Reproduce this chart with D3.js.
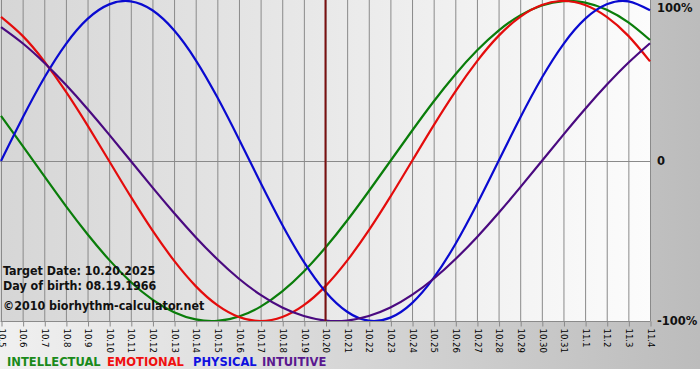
<!DOCTYPE html>
<html><head><meta charset="utf-8">
<script src="https://cdn.jsdelivr.net/npm/d3@7"></script>
<style>html,body{margin:0;padding:0;background:#fff;}svg{display:block;}</style>
</head><body>
<script>
const dates = ["10.5","10.6","10.7","10.8","10.9","10.10","10.11","10.12","10.13","10.14","10.15","10.16","10.17","10.18","10.19","10.20","10.21","10.22","10.23","10.24","10.25","10.26","10.27","10.28","10.29","10.30","10.31","11.1","11.2","11.3","11.4"];
const intellectual = [0.282,0.095,-0.095,-0.282,-0.458,-0.618,-0.756,-0.866,-0.945,-0.990,-0.999,-0.972,-0.910,-0.815,-0.690,-0.541,-0.372,-0.189,0,0.189,0.372,0.541,0.690,0.815,0.910,0.972,0.999,0.990,0.945,0.866,0.756];
const emotional = [0.901,0.782,0.623,0.434,0.223,0,-0.223,-0.434,-0.623,-0.782,-0.901,-0.975,-1,-0.975,-0.901,-0.782,-0.623,-0.434,-0.223,0,0.223,0.434,0.623,0.782,0.901,0.975,1,0.975,0.901,0.782,0.623];
const physical = [0,0.270,0.520,0.731,0.888,0.979,0.998,0.942,0.817,0.631,0.398,0.136,-0.136,-0.398,-0.631,-0.817,-0.942,-0.998,-0.979,-0.888,-0.731,-0.520,-0.270,0,0.270,0.520,0.731,0.888,0.979,0.998,0.942];
const intuitive = [0.837,0.736,0.614,0.476,0.325,0.165,0,-0.165,-0.325,-0.476,-0.614,-0.736,-0.837,-0.916,-0.969,-0.997,-0.997,-0.969,-0.916,-0.837,-0.736,-0.614,-0.476,-0.325,-0.165,0,0.165,0.325,0.476,0.614,0.736];
const seriesNames = ["INTELLECTUAL","EMOTIONAL","PHYSICAL","INTUITIVE"];
const yTickLabels = ["100%","0","-100%"];
const yTickValues = [1,0,-1];
const targetDate = "10.20";
const infoLines = ["Target Date: 10.20.2025","Day of birth: 08.19.1966","\u00a92010 biorhythm-calculator.net"];

const W=700,H=380;
const lineColors=["#0a7d0a","#e40c0c","#0a0ad0","#4a0a80"];
const legendColors=["#1a8a1a","#f01010","#1010e0","#5a1890"];
const seriesData=[intellectual,emotional,physical,intuitive];

const svg=d3.select("body").append("svg").attr("width",W).attr("height",H);
const defs=svg.append("defs");
const g1=defs.append("linearGradient").attr("id","outerG").attr("x1","0").attr("x2","1").attr("y1","0").attr("y2","0");
g1.append("stop").attr("offset","0").attr("stop-color","#f0f0f0");
g1.append("stop").attr("offset","1").attr("stop-color","#bcbcbc");
const g2=defs.append("linearGradient").attr("id","plotG").attr("x1","0").attr("x2","1").attr("y1","0").attr("y2","0");
g2.append("stop").attr("offset","0").attr("stop-color","#d6d6d6");
g2.append("stop").attr("offset","1").attr("stop-color","#fcfcfc");

const x=d3.scalePoint().domain(dates).range([1,650]);
const y=d3.scaleLinear().domain([-1,1]).range([321,1]);
const xEnd=x(dates[dates.length-1]);

svg.append("rect").attr("x",0).attr("y",0).attr("width",W).attr("height",369).attr("fill","url(#outerG)");
svg.append("rect").attr("x",0).attr("y",0).attr("width",xEnd+1).attr("height",y(-1)).attr("fill","url(#plotG)");

defs.append("clipPath").attr("id","clip").append("rect").attr("x",0).attr("y",0).attr("width",xEnd+1).attr("height",y(-1));

// vertical grid
svg.append("g").selectAll("line").data(dates).join("line")
  .attr("x1",d=>x(d)+0.5).attr("x2",d=>x(d)+0.5).attr("y1",0).attr("y2",y(-1))
  .attr("stroke","#8a8a8a").attr("stroke-width",1);
// zero line
svg.append("line").attr("x1",0).attr("x2",xEnd+1).attr("y1",Math.round(y(0))+0.5).attr("y2",Math.round(y(0))+0.5).attr("stroke","#8a8a8a");

// bottom axis
const ax=svg.append("g").attr("transform",`translate(0.5,${y(-1)+0.5})`)
  .call(d3.axisBottom(x).tickSize(5).tickPadding(2));
ax.select(".domain").attr("stroke","#8a8a8a").attr("d",`M0,0H${xEnd}`);
ax.selectAll(".tick line").attr("stroke","#8a8a8a");
ax.selectAll(".tick text").attr("transform","rotate(90)").attr("x",7).attr("y",0).attr("dy","0.35em")
  .attr("text-anchor","start").attr("font-family","'DejaVu Sans Condensed','DejaVu Sans',sans-serif").attr("font-size",9.5).attr("fill","#000");

// curves
const line=d3.line().x((d,i)=>x(dates[i])).y(d=>y(d)).curve(d3.curveNatural);
const cg=svg.append("g").attr("clip-path","url(#clip)");
seriesData.forEach((s,k)=>{
  cg.append("path").attr("d",line(s)).attr("fill","none").attr("stroke",lineColors[k]).attr("stroke-width",2.2);
});

// target line
svg.append("line").attr("x1",x(targetDate)).attr("x2",x(targetDate)).attr("y1",0).attr("y2",y(-1))
  .attr("stroke","#7a1010").attr("stroke-width",2);

// right labels
svg.append("g").selectAll("text").data(yTickValues).join("text")
  .attr("x",xEnd+7).attr("y",d=>Math.max(y(d),8)).attr("dy","0.35em")
  .attr("font-family","'DejaVu Sans',sans-serif").attr("font-weight","bold").attr("font-size",11.5).attr("fill","#111")
  .text((d,i)=>yTickLabels[i]);

// info text
const infoY=[275,290,310];
svg.append("g").selectAll("text").data(infoLines).join("text")
  .attr("x",3).attr("y",(d,i)=>infoY[i])
  .attr("font-family","'DejaVu Sans Condensed','DejaVu Sans',sans-serif").attr("font-weight","bold").attr("font-size",12.4).attr("fill","#111")
  .text(d=>d);

// legend
const legendX=[7,107,193,262];
svg.append("g").selectAll("text").data(seriesNames).join("text")
  .attr("x",(d,i)=>legendX[i]).attr("y",366)
  .attr("font-family","'DejaVu Sans Condensed','DejaVu Sans',sans-serif").attr("font-weight","bold").attr("font-size",12.8)
  .attr("fill",(d,i)=>legendColors[i]).text(d=>d);
</script>
</body></html>
